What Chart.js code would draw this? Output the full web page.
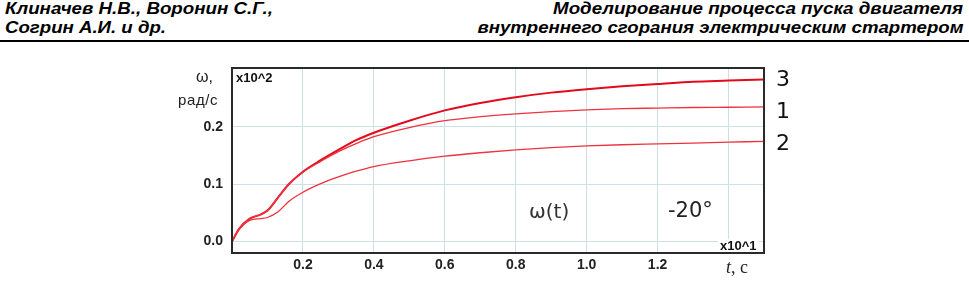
<!DOCTYPE html>
<html>
<head>
<meta charset="utf-8">
<script src="https://cdn.jsdelivr.net/npm/chart.js@4"></script>
<style>
  html, body { margin: 0; padding: 0; background: #fff; }
  body { width: 969px; height: 281px; position: relative; overflow: hidden; font-family: "Liberation Sans", Arial, sans-serif; }
  #chart { position: absolute; left: 0; top: 0; }
  .hdr { position: absolute; font-weight: bold; font-style: italic; font-size: 16px; color: #000; white-space: nowrap; line-height: 1; }
  .fitL { transform-origin: left center; }
  .fitR { transform-origin: right center; }
  #rule { position: absolute; left: 0; width: 969px; top: 40px; height: 2px; background: #000; }
  .lbl { position: absolute; white-space: nowrap; line-height: 1; color: #222; }
</style>
</head>
<body>
<div class="hdr fitL" style="left:5px; top:1px;" data-w="268">Клиначев Н.В., Воронин С.Г.,</div>
<div class="hdr fitR" style="right:6px; top:1px;" data-w="410">Моделирование процесса пуска двигателя</div>
<div class="hdr fitL" style="left:5px; top:20px;" data-w="161">Согрин А.И. и др.</div>
<div class="hdr fitR" style="right:6px; top:20px;" data-w="486">внутреннего сгорания электрическим стартером</div>
<div id="rule"></div>

<canvas id="chart" width="969" height="281"></canvas>

<div class="lbl" style="left:196px; top:69px; font-size:16px;">ω,</div>
<div class="lbl" style="left:178px; top:92px; font-size:15px; letter-spacing:0.6px;">рад/с</div>
<div class="lbl" style="left:236px; top:71px; font-size:13px; font-weight:bold; color:#111;">x10^2</div>
<div class="lbl" style="left:718px; top:239px; font-size:13px; font-weight:bold; color:#111; background:#fff; padding:0 2px;">x10^1</div>
<div class="lbl" style="left:726px; top:258px; font-size:18px; font-family:'Liberation Serif','DejaVu Serif',serif;"><i>t</i>, c</div>
<div class="lbl" style="left:529px; top:201px; font-size:20px; font-family:'DejaVu Sans',sans-serif; color:#333;">ω(t)</div>
<div class="lbl" style="left:668px; top:200px; font-size:21px; font-family:'DejaVu Sans',sans-serif; color:#222;">-20°</div>
<div class="lbl" style="left:776px; top:68px; font-size:22px; font-family:'DejaVu Sans',sans-serif; color:#111;">3</div>
<div class="lbl" style="left:776px; top:100px; font-size:22px; font-family:'DejaVu Sans',sans-serif; color:#111;">1</div>
<div class="lbl" style="left:776px; top:132px; font-size:22px; font-family:'DejaVu Sans',sans-serif; color:#111;">2</div>

<script>
// время, x10^1 с
const tValues = [0, 0.02, 0.05, 0.08, 0.1, 0.13, 0.16, 0.2, 0.25, 0.3, 0.35, 0.4, 0.5, 0.6, 0.7, 0.8, 0.9, 1.0, 1.1, 1.2, 1.3, 1.4, 1.5];
// угловая скорость, x10^2 рад/с
const omega1 = [0, 0.022, 0.040, 0.047, 0.054, 0.077, 0.100, 0.121, 0.140, 0.157, 0.171, 0.183, 0.199, 0.211, 0.218, 0.223, 0.227, 0.230, 0.232, 0.233, 0.234, 0.2345, 0.235];
const omega2 = [0, 0.021, 0.037, 0.040, 0.042, 0.052, 0.070, 0.086, 0.101, 0.113, 0.123, 0.131, 0.141, 0.149, 0.155, 0.160, 0.164, 0.167, 0.169, 0.1705, 0.172, 0.1735, 0.175];
const omega3 = [0, 0.022, 0.040, 0.047, 0.054, 0.077, 0.100, 0.122, 0.142, 0.160, 0.177, 0.190, 0.211, 0.229, 0.242, 0.252, 0.260, 0.266, 0.271, 0.275, 0.279, 0.281, 0.283];
// деления осей (у 1.4 подписи нет — там стоит "t, c")
const xTicks = [0.2, 0.4, 0.6, 0.8, 1.0, 1.2, 1.4];
const xTickLabels = ['0.2', '0.4', '0.6', '0.8', '1.0', '1.2', ''];
const yTicks = [0.0, 0.1, 0.2];
const yTickLabels = ['0.0', '0.1', '0.2'];

// подгонка ширины заголовков
document.querySelectorAll('.hdr').forEach(function(el) {
    const target = parseFloat(el.dataset.w);
    const w = el.getBoundingClientRect().width;
    el.style.transform = 'scaleX(' + (target / w) + ')';
});

function points(ys) {
    return tValues.map(function(t, i) { return { x: t, y: ys[i] }; });
}

// рамка вокруг области графика
const frame = {
    id: 'frame',
    afterDatasetsDraw: function(chart) {
        const a = chart.chartArea;
        const ctx = chart.ctx;
        ctx.save();
        ctx.strokeStyle = '#2a2a2a';
        ctx.lineWidth = 2;
        ctx.strokeRect(a.left, a.top, a.right - a.left, a.bottom - a.top);
        ctx.restore();
    }
};

new Chart(document.getElementById('chart'), {
    type: 'line',
    data: {
        datasets: [
            { label: '1', data: points(omega1), borderColor: 'rgb(238, 50, 62)', borderWidth: 1.3 },
            { label: '2', data: points(omega2), borderColor: 'rgb(238, 50, 62)', borderWidth: 1.3 },
            { label: '3', data: points(omega3), borderColor: 'rgb(228, 10, 30)', borderWidth: 2 }
        ]
    },
    options: {
        responsive: false,
        animation: false,
        devicePixelRatio: 1,
        layout: { padding: { top: 68, right: 205, bottom: 0, left: 0 } },
        elements: {
            point: { radius: 0 },
            line: { cubicInterpolationMode: 'monotone', fill: false }
        },
        plugins: { legend: { display: false }, tooltip: { enabled: false } },
        scales: {
            x: {
                type: 'linear',
                min: 0,
                max: 1.5,
                afterBuildTicks: function(scale) {
                    scale.ticks = xTicks.map(function(v) { return { value: v }; });
                },
                afterFit: function(scale) { scale.height = 28; },
                grid: { color: '#cde0e8', lineWidth: 1, drawTicks: false },
                border: { display: false },
                ticks: {
                    padding: 4,
                    color: '#222',
                    font: { family: 'Liberation Sans', size: 14, weight: 'bold' },
                    callback: function(v, i) { return xTickLabels[i]; }
                }
            },
            y: {
                min: -0.02,
                max: 0.303,
                afterBuildTicks: function(scale) {
                    scale.ticks = yTicks.map(function(v) { return { value: v }; });
                },
                afterFit: function(scale) { scale.width = 232; },
                grid: { color: '#cde0e8', lineWidth: 1, drawTicks: false },
                border: { display: false },
                ticks: {
                    padding: 9,
                    color: '#222',
                    font: { family: 'Liberation Sans', size: 14, weight: 'bold' },
                    callback: function(v, i) { return yTickLabels[i]; }
                }
            }
        }
    },
    plugins: [frame]
});
</script>
</body>
</html>
